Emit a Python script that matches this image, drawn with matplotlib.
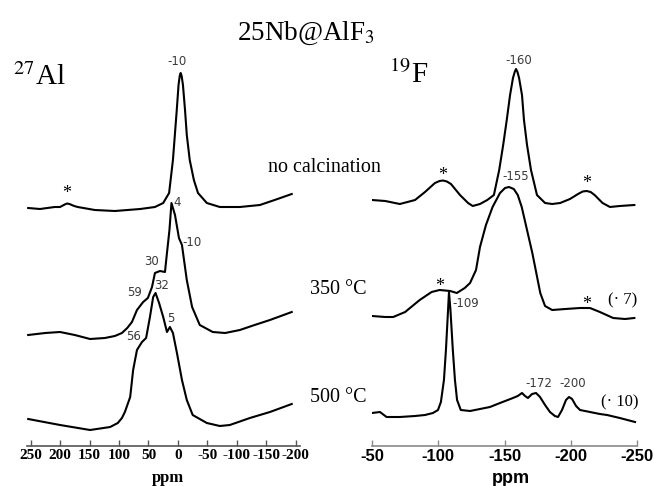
import numpy as np
import matplotlib
matplotlib.use("Agg")
import matplotlib.pyplot as plt

plt.rcParams['font.family'] = ['Liberation Serif', 'DejaVu Sans']
plt.rcParams['mathtext.fontset'] = 'stix'

# 27Al spectra (ppm, intensity above own baseline)
al_x1 = [254, 234, 209, 200, 192, 188, 184, 176, 170, 141, 107, 64, 39, 25, 15, 8.5, 2, -1,
         -3, -4.6, -6.3, -8.5, -12, -15, -20, -27, -34, -49, -71, -105, -139, -164, -193]
al_y1 = [0, -1, 1, 1, 3.5, 4.5, 4, 2, 1, -2, -3, -1, 1, 5, 15, 48, 98, 123,
         132, 135, 132, 123, 98, 73, 48, 28, 15, 5, 1, 1, 3, 8, 14]

al_x2 = [254, 225, 200, 175, 149, 124, 107, 95, 86, 78, 69.5, 59, 51, 44, 39, 30.5, 22, 19,
         14.4, 11, 5, -1.7, -6.8, -15, -24, -37, -59, -80, -105, -130, -156, -193]
al_y2 = [0, 2, 3, 0, -4, -3, -1, 2, 7, 13, 25, 33, 37, 48, 62, 64, 63, 80,
         105, 132, 120, 97, 90, 55, 28, 10, 3, 2, 5, 10, 15, 23]

al_x3 = [254, 200, 149, 115, 102, 95, 90, 81, 76, 69.5, 61, 54, 47.5, 42, 38, 32, 25, 18.6,
         13.6, 8.5, 1.7, -6.8, -15, -25, -49, -71, -88, -122, -156, -193]
al_y3 = [6, 0, -5, -2, 2, 7, 13, 28, 55, 75, 83, 87, 108, 128, 132, 122, 108, 93,
         98, 92, 72, 45, 25, 10, 2, -1, 0, 7, 13, 21]

# 19F spectra
f_x1 = [-50, -60, -71, -82.5, -90, -97.5, -101, -103.6, -106.5, -109.6, -116.4, -122.5, -126,
        -131.5, -137, -142, -146, -149, -151.7, -154.2, -156.4, -157.7, -158.7, -159.8, -161,
        -163.2, -164.7, -167, -170, -174.5, -180.6, -186, -192, -199.4, -205.5, -209, -212,
        -215, -218, -224, -229.6, -237, -248]
f_y1 = [5, 4, 1, 5, 13, 22, 24, 24.5, 23.5, 21, 10, 2, -1,
        1, 5, 10, 35, 60, 85, 110, 127, 133, 136, 133, 127,
        110, 85, 60, 35, 10, 2, 1, 2, 6, 11, 13.5, 14,
        13, 10, 2, -2, -1, 0]

f_x2 = [-50, -60, -66, -75, -86, -95, -101, -109, -114, -120, -124, -128.5, -131.5, -136,
        -141, -146.6, -150.4, -153.4, -157, -160, -163, -167, -171, -174, -177, -180.6,
        -186, -196, -207, -214.5, -222, -232, -241, -248]
f_y2 = [0, -1, -1, 4, 16, 24, 26, 25, 23, 28, 33, 46, 69, 91,
        109, 123, 128, 129, 127, 121, 109, 86, 63, 43, 23, 10,
        6, 7, 8, 8, 4, -2, -3, -2]

f_x3 = [-50, -56, -61, -71, -82.5, -90, -96, -99.8, -102, -104.3, -105.8, -107.4, -108.1,
        -109.2, -111, -112.6, -114.2, -117, -124, -131.5, -139, -146.6, -156.4, -160,
        -163.2, -165.5, -167.7, -170.8, -173.8, -176.8, -180.6, -184.3, -188, -190.4,
        -193.4, -196.4, -198.7, -201, -204, -207, -214.5, -222, -227.4, -237, -248.5]
f_y3 = [2, 3, -2, -2, -1, 0, 2, 5, 13, 35, 65, 105, 123,
        105, 65, 35, 15, 5, 4, 6, 8, 12, 17, 19,
        22, 19, 17, 21, 22, 18, 10, 3, -1, -2,
        5, 15, 18, 16, 9, 5, 3, 1, 0, -3, -7]

al_ticks = [250, 200, 150, 100, 50, 0, -50, -100, -150, -200]
f_ticks = [-50, -100, -150, -200, -250]

# vertical stacking of the traces
al_offsets = [238, 111, 21]
f_offsets = [241, 130, 31]

W, H = 654, 486
fig = plt.figure(figsize=(W / 100, H / 100), dpi=100)
axL = fig.add_axes([27 / W, 1 - 446 / H, 273 / W, 386 / H])
axR = fig.add_axes([372 / W, 1 - 446 / H, 265 / W, 386 / H])

for xs, ys, off in zip([al_x1, al_x2, al_x3], [al_y1, al_y2, al_y3], al_offsets):
    axL.plot(xs, np.array(ys) + off, color='black', lw=1.5, solid_joinstyle='round')
for xs, ys, off in zip([f_x1, f_x2, f_x3], [f_y1, f_y2, f_y3], f_offsets):
    axR.plot(xs, np.array(ys) + off, color='black', lw=1.5, solid_joinstyle='round')

axL.set_xlim(256, -207)
axR.set_xlim(-50, -250)
for ax, col in [(axL, '#555555'), (axR, '#8a8a8a')]:
    ax.set_ylim(0, 386)
    for s in ['left', 'right', 'top']:
        ax.spines[s].set_visible(False)
    ax.spines['bottom'].set_color(col)
    ax.spines['bottom'].set_linewidth(1.2)
    ax.set_yticks([])
    ax.tick_params(axis='x', direction='in', length=4, width=1, color=col, pad=2)
    ax.patch.set_alpha(0)

axL.set_xticks(al_ticks)
axL.set_xticklabels([str(t) for t in al_ticks], fontsize=11, fontweight='bold',
                    family='Liberation Serif')
axR.set_xticks(f_ticks)
axR.set_xticklabels([str(t) for t in f_ticks], fontsize=12, fontweight='bold',
                    family='Liberation Sans')

lab = dict(fontsize=8.5, color='#3a3a3a', family='DejaVu Sans', ha='center', va='center')
axL.text(1.7, 384, '-10', **lab)
axL.text(1.7, 244, '4', **lab)
axL.text(-23.7, 203, '-10', **lab)
axL.text(44, 185, '30', **lab)
axL.text(73, 154, '59', **lab)
axL.text(27, 161, '32', **lab)
axL.text(12, 128, '5', **lab)
axL.text(76, 110, '56', **lab)

axR.text(-161, 385, '-160', **lab)
axR.text(-158.7, 269, '-155', **lab)
axR.text(-121, 143, '-109', **lab)
axR.text(-176, 63, '-172', **lab)
axR.text(-201.7, 63, '-200', **lab)

star = dict(fontsize=13, color='black', ha='center', va='center', family='Liberation Serif')
axL.text(188, 252, '*', **star)
axR.text(-103.6, 270, '*', **star)
axR.text(-212.3, 262, '*', **star)
axR.text(-101.3, 160, '*', **star)
axR.text(-212.3, 142, '*', **star)

axR.text(-239.4, 146, '(· 7)', fontsize=12, ha='center', va='center')
axR.text(-237.2, 44, '(· 10)', fontsize=12, ha='center', va='center')

fig.text(306 / W, 1 - 33 / H, r'25Nb@AlF$_3$', fontsize=19.5, ha='center', va='center')
fig.text(13 / W, 1 - 85 / H, r'$^{27}$Al', fontsize=21, ha='left', va='baseline')
fig.text(389 / W, 1 - 83 / H, r'$^{19}$F', fontsize=21, ha='left', va='baseline')
fig.text(268 / W, 1 - 168 / H, 'no calcination', fontsize=14.5, ha='left', va='center')
fig.text(310 / W, 1 - 290 / H, '350 °C', fontsize=14.5, ha='left', va='center')
fig.text(310 / W, 1 - 397 / H, '500 °C', fontsize=14.5, ha='left', va='center')

fig.text(168 / W, 1 - 478 / H, 'ppm', fontsize=12, fontweight='bold', ha='center',
         va='center', family='Liberation Serif')
fig.text(511 / W, 1 - 478 / H, 'ppm', fontsize=13, fontweight='bold', ha='center',
         va='center', family='Liberation Sans')

fig.savefig('out.png', dpi=100, facecolor='white')
